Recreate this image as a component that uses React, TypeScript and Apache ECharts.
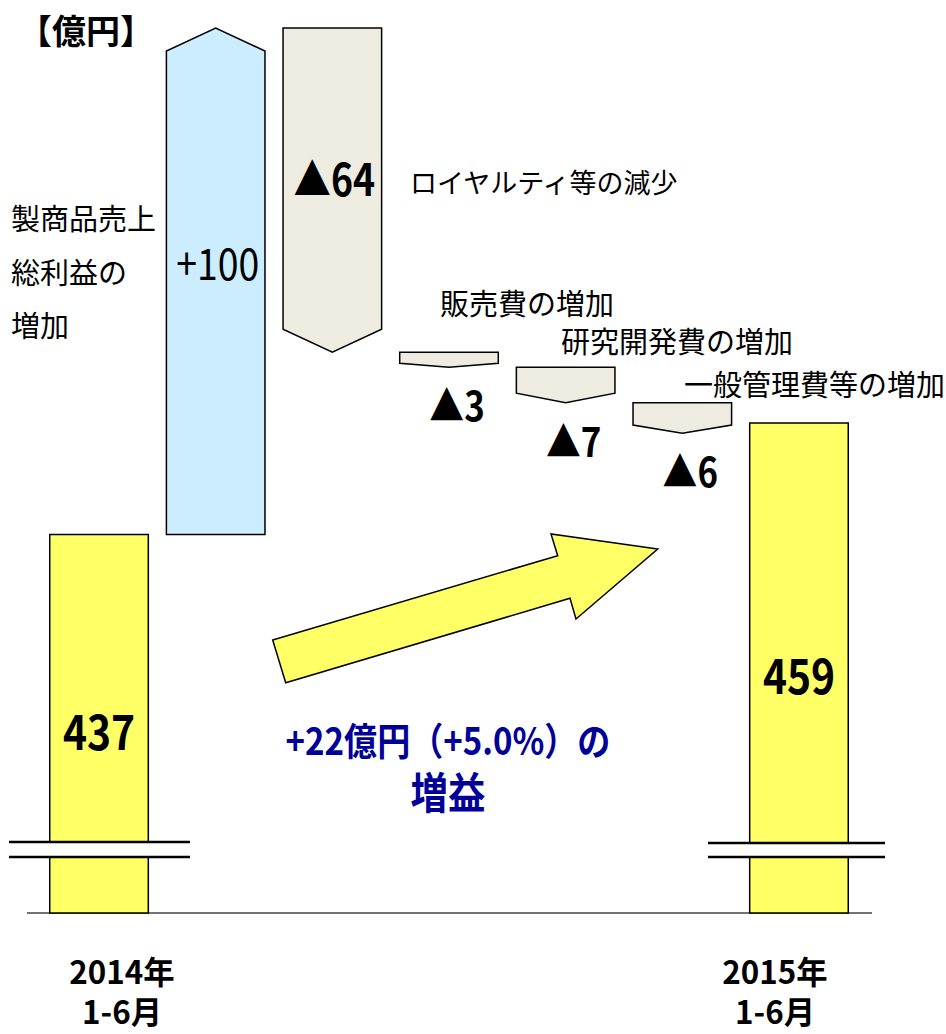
import React, { useEffect, useRef } from 'react';
import * as echarts from 'echarts';

// ---- data ----
const categories = ['2014年1-6月', '製商品売上総利益の増加', 'ロイヤルティ等の減少', '販売費の増加', '研究開発費の増加', '一般管理費等の増加', '2015年1-6月'];
const startValue = 437;
const deltas = [100, -64, -3, -7, -6];
const endValue = 459;
const valueLabels = ['437', '+100', '▲64', '▲3', '▲7', '▲6', '459'];
const axisMin = 362.27; // value at the (broken) baseline
const axisMax = 537;
const unitLabel = '【億円】';
const leftNote = ['製商品売上', '総利益の', '増加'];
const stepNotes = ['ロイヤルティ等の減少', '販売費の増加', '研究開発費の増加', '一般管理費等の増加'];
const summaryLines = ['+22億円（+5.0%）の', '増益'];
const periodLabels = ['2014年\n1-6月', '2015年\n1-6月'];

const JP_FONT = "'Noto Sans CJK JP', sans-serif";
const NARROW = 0.85;

type Row = [number, number, number, number];
const rows: Row[] = [];
rows.push([0, axisMin, startValue, 0]);
let cum = startValue;
deltas.forEach((d, i) => {
  rows.push([i + 1, cum, cum + d, d > 0 ? 1 : 2]);
  cum += d;
});
rows.push([categories.length - 1, axisMin, endValue, 0]);

const numText = (text: string, x: number, y: number, size: number, weight: string) => ({
  type: 'text',
  x, y, scaleX: NARROW,
  style: {
    text, x: 0, y: 0, align: 'center', verticalAlign: 'middle',
    fontSize: size, fontWeight: weight, fontFamily: JP_FONT, fill: '#000',
  },
});

const renderItem = (params: any, api: any) => {
  const i = api.value(0);
  const from = api.value(1);
  const to = api.value(2);
  const kind = api.value(3);
  const pFrom = api.coord([i, from]);
  const pTo = api.coord([i, to]);
  const w = api.size([1, 0])[0] * 0.845;
  const cx = pFrom[0];
  const x0 = cx - w / 2;
  const x1 = cx + w / 2;
  const top = Math.min(pFrom[1], pTo[1]);
  const bot = Math.max(pFrom[1], pTo[1]);
  const h = bot - top;
  const label = valueLabels[params.dataIndex];
  const children: any[] = [];
  if (kind === 0) {
    children.push({
      type: 'rect',
      shape: { x: x0, y: top, width: w, height: h },
      style: { fill: '#FFFF66', stroke: '#000', lineWidth: 1.5 },
    });
    children.push(numText(label, cx, top + h / 2 + 5, 48, 'bold'));
  } else {
    const head = Math.min(23, 0.27 * h);
    const pts = kind === 1
      ? [[x0, bot], [x0, top + head], [cx, top], [x1, top + head], [x1, bot]]
      : [[x0, top], [x1, top], [x1, bot - head], [cx, bot], [x0, bot - head]];
    children.push({
      type: 'polygon',
      shape: { points: pts },
      style: { fill: kind === 1 ? '#CCECFF' : '#EEECE1', stroke: '#000', lineWidth: 1.5 },
    });
    const big = h > 100;
    children.push(numText(
      label,
      big ? cx + 2 : cx + 8,
      big ? top + 0.46 * h : bot + 36,
      kind === 1 ? 44 : (big ? 44 : 41),
      kind === 1 ? 'normal' : 'bold',
    ));
  }
  return { type: 'group', children };
};

const txt = (text: string, x: number, y: number, size: number, opts: any = {}) => ({
  type: 'text',
  z: 50,
  x, y,
  scaleX: opts.scaleX || 1,
  style: {
    text, x: 0, y: 0, fontSize: size, fontFamily: JP_FONT,
    fontWeight: opts.weight || 'normal', fill: opts.fill || '#000',
    align: opts.align || 'left', verticalAlign: 'middle',
    lineHeight: opts.lineHeight,
    rich: opts.rich,
  },
});

export default function App() {
  const ref = useRef<HTMLDivElement>(null);
  useEffect(() => {
    if (!ref.current) return;
    const chart = echarts.init(ref.current, null, { renderer: 'svg' });
    const breakMark = (xa: number, xb: number, y1: number, y2: number) => [
      { type: 'rect', z: 60, shape: { x: xa, y: y1, width: xb - xa, height: y2 - y1 }, style: { fill: '#fff' } },
      { type: 'line', z: 61, shape: { x1: xa, y1, x2: xb, y2: y1 }, style: { stroke: '#000', lineWidth: 2.5 } },
      { type: 'line', z: 61, shape: { x1: xa, y1: y2, x2: xb, y2 }, style: { stroke: '#000', lineWidth: 2.5 } },
    ];
    chart.setOption({
      animation: false,
      backgroundColor: '#fff',
      grid: { left: 40.7, right: 88.7, top: 28, bottom: 121 },
      xAxis: { type: 'category', data: categories, show: false, boundaryGap: true },
      yAxis: { type: 'value', min: axisMin, max: axisMax, show: false },
      series: [
        { type: 'custom', renderItem, data: rows, clip: false, z: 5 },
      ],
      graphic: [
        { type: 'line', z: 1, shape: { x1: 27, y1: 913, x2: 872, y2: 913 }, style: { stroke: '#444', lineWidth: 1.5 } },
        ...breakMark(9, 190, 842, 857),
        ...breakMark(708, 885, 843, 857),
        {
          type: 'polygon', z: 40,
          shape: { points: [[272.7, 640], [557.7, 555.7], [551, 534], [657.7, 549], [576, 619], [570, 598.3], [285.7, 682.7]] },
          style: { fill: '#FFFF66', stroke: '#000', lineWidth: 1.5 },
        },
        txt(unitLabel, 86, 29, 34, { weight: 'bold', align: 'center' }),
        txt(leftNote[0], 11, 217, 29),
        txt(leftNote[1], 11, 271, 29),
        txt(leftNote[2], 11, 324, 29),
        txt(stepNotes[0], 410, 181, 27),
        txt(stepNotes[1], 440, 302, 29),
        txt(stepNotes[2], 561, 340, 29),
        txt(stepNotes[3], 684, 383, 29),
        txt(`{a|${summaryLines[0]}}\n{b|${summaryLines[1]}}`, 448, 764, 38, {
          weight: 'bold', align: 'center', fill: '#000099', scaleX: 0.87,
          rich: {
            a: { fontSize: 38, fontWeight: 'bold', fontFamily: JP_FONT, fill: '#000099', lineHeight: 52 },
            b: { fontSize: 43, fontWeight: 'bold', fontFamily: JP_FONT, fill: '#000099', lineHeight: 52 },
          },
        }),
        txt(periodLabels[0], 122, 990, 32, { weight: 'bold', align: 'center', scaleX: 0.98, lineHeight: 40 }),
        txt(periodLabels[1], 775, 990, 32, { weight: 'bold', align: 'center', scaleX: 0.98, lineHeight: 40 }),
      ],
    });
    return () => chart.dispose();
  }, []);
  return <div ref={ref} style={{ position: 'absolute', left: 0, top: 0, width: 946, height: 1034 }} />;
}
